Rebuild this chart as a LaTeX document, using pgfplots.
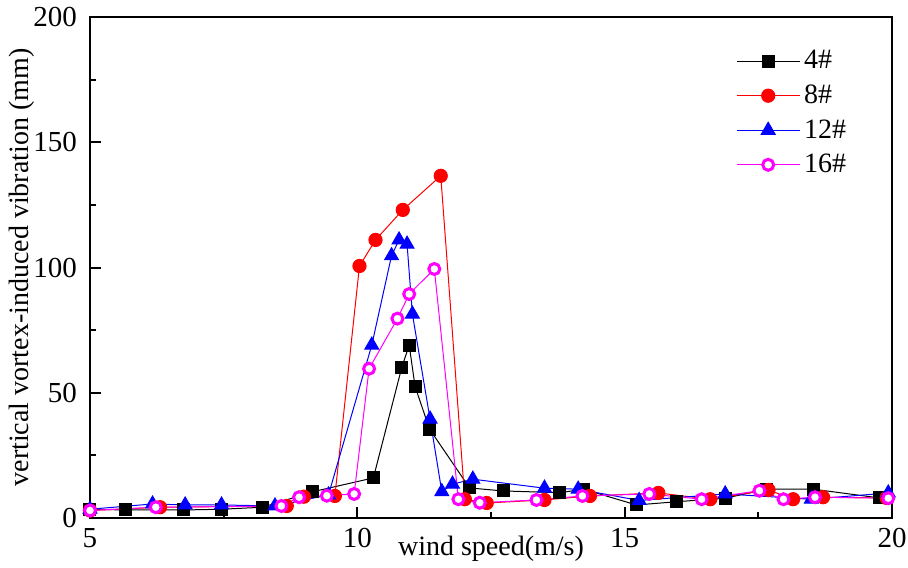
\documentclass[border=0pt]{standalone}
\usepackage{fontspec}
\setmainfont{Liberation Serif}
\usepackage{pgfplots}
\usetikzlibrary{calc}
\pgfplotsset{compat=1.18}
\definecolor{mymag}{RGB}{255,0,255}
\begin{document}
\begin{tikzpicture}
\begin{axis}[
  scale only axis,
  width=401pt, height=250.5pt,
  xmin=5, xmax=20, ymin=0, ymax=200,
  xtick={5,10,15,20}, ytick={0,50,100,150,200},
  minor x tick num=1, minor y tick num=1,
  xtick pos=bottom, ytick pos=left,
  tick align=inside,
  major tick length=5.5pt, minor tick length=3pt,
  every tick/.style={black, line width=1pt},
  axis line style={line width=1pt},
  font=\fontsize{14}{17}\selectfont,
  /pgf/number format/assume math mode=true,
  yticklabel style={xshift=-3pt, font=\fontsize{14.5}{17}\selectfont},
  xticklabel style={yshift=-1.5pt, font=\fontsize{14.5}{17}\selectfont},
  xlabel={wind speed(m/s)},
  xlabel style={at={(axis description cs:0.5,-0.062)}, anchor=center},
  ylabel={vertical vortex-induced vibration (mm)},
  ylabel style={at={(axis description cs:-0.085,0.5)}, anchor=center, rotate=0},
  legend style={draw=none, fill=none, at={(rel axis cs:0.798,0.95)}, anchor=north west, row sep=2.5pt, font=\fontsize{14}{17}\selectfont},
  legend cell align=left,
  legend image code/.code={\draw[mark repeat=2,mark phase=2] plot coordinates {(0cm,0cm) (0.55cm,0cm) (1.1cm,0cm)};},
]
\coordinate (ll) at (rel axis cs:0,0);
\coordinate (ur) at (rel axis cs:1,1);
\addplot[black, line width=0.5pt, mark=square*, mark size=3pt] coordinates {
(5.0,3.5) (5.67,3.2) (6.74,3.2) (7.46,3.5) (8.23,4.3) (9.17,10.5) (10.30,16) (10.83,60) (10.97,69) (11.08,52.5) (11.35,35.5) (12.10,12) (12.73,10.8) (13.79,10.1) (14.23,11.5) (15.22,5.2) (15.97,6.5) (16.88,7.9) (17.65,11.5) (18.53,11.5) (19.77,8)
};
\addlegendentry{4\#}
\addplot[red, line width=0.5pt, mark=*, mark size=3.3pt] coordinates {
(5.0,3.0) (6.31,4.3) (8.68,4.8) (9.0,8.5) (9.58,8.8) (10.04,100.6) (10.34,111) (10.85,123) (11.56,136.6) (12.01,7.5) (12.42,6) (13.5,7.2) (14.35,8.8) (15.63,10) (16.6,7.5) (17.69,11.2) (18.15,7.5) (18.71,8.3) (19.9,8)
};
\addlegendentry{8\#}
\addplot[blue, line width=0.5pt, mark=triangle*, mark size=4pt] coordinates {
(5.0,3.5) (6.17,5.6) (6.78,5.2) (7.46,5.2) (8.46,4.8) (9.46,9.2) (10.27,69) (10.64,104.7) (10.78,111) (10.93,109.3) (11.03,81.4) (11.36,39.5) (11.58,10.5) (11.78,13.5) (12.16,15.5) (13.5,11.9) (14.13,11.5) (15.27,7) (16.88,9.6) (18.49,7.5) (19.93,10)
};
\addlegendentry{12\#}
\addplot[mymag, line width=0.5pt, mark=*, mark size=2.75pt, mark options={fill=white, line width=1.5pt}] coordinates {
(5.0,3.0) (6.23,4.3) (8.58,4.8) (8.91,8.3) (9.43,8.9) (9.94,9.6) (10.22,59.6) (10.75,79.6) (10.97,89.4) (11.44,99.4) (11.89,7.5) (12.29,6.1) (13.35,7.2) (14.21,8.8) (15.46,9.6) (16.44,7.5) (17.52,10.9) (17.97,7.5) (18.56,8.3) (19.93,7.9)
};
\addlegendentry{16\#}
\end{axis}
\pgfresetboundingbox
\path ($(ll)+(-45pt,-24.5pt)$) rectangle ($(ur)+(8pt,8.5pt)$);
\end{tikzpicture}
\end{document}
